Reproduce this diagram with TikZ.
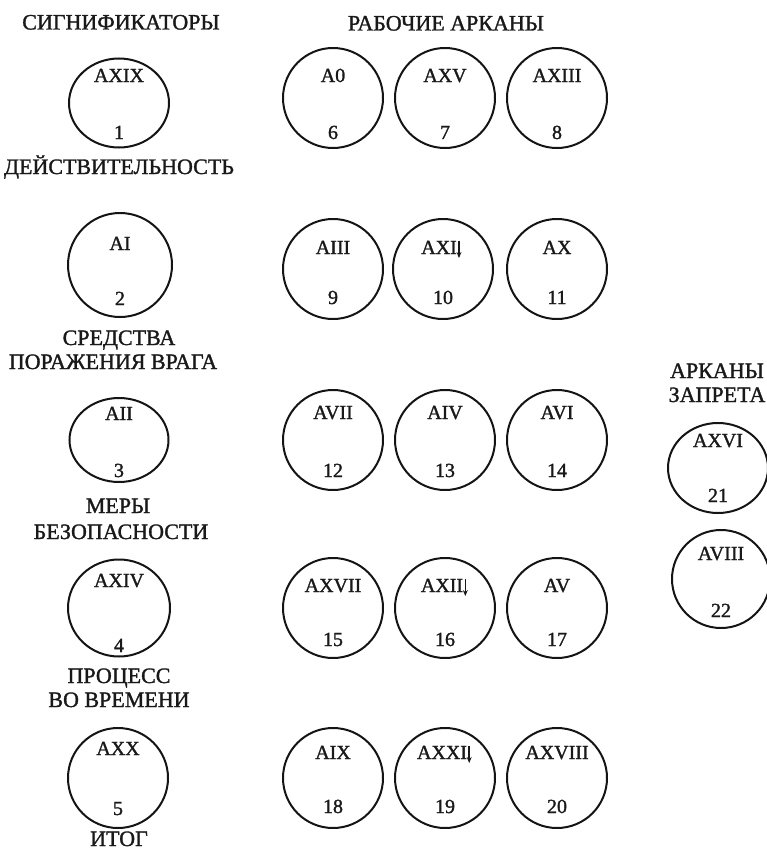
\documentclass[tikz,border=0pt]{standalone}
\usepackage{fontspec}
\setmainfont{Liberation Serif}[FakeBold=1.4]
\newfontfamily\cyrfont{Liberation Serif}[FakeBold=1.4]
\usetikzlibrary{shapes.geometric,arrows.meta}
\tikzset{
  ring/.style={draw=black!92, ellipse, line width=2pt, inner sep=0pt, minimum width=100pt, minimum height=100pt},
  lbl/.style={anchor=base, inner sep=0pt, text=black!90, font=\fontsize{20}{22}\selectfont},
  cyrtxt/.style={anchor=base, inner sep=0pt, text=black!90, font=\cyrfont\fontsize{22}{24}\selectfont},
  darr/.style={draw=black!90, line width=1.5pt, -{Stealth[length=6pt,width=5pt]}}
}
\begin{document}
\begin{tikzpicture}[x=1pt,y=-1pt]
\useasboundingbox (0,0) rectangle (767,851);
% headers
\node[cyrtxt] (h1) at (121,29.5) {СИГНИФИКАТОРЫ};
\node[cyrtxt] (h2) at (446,30.5) {РАБОЧИЕ АРКАНЫ};
\node[cyrtxt] (h3a) at (717,378) {АРКАНЫ};
\node[cyrtxt] (h3b) at (717,402) {ЗАПРЕТА};
% significators
\node[ring, minimum width=100pt, minimum height=89pt] (c1) at (119,103) {};
\node[lbl] (a1) at (119,82) {AXIX};
\node[lbl] (n1) at (119,139) {1};
\node[cyrtxt] (s1) at (119,174) {ДЕЙСТВИТЕЛЬНОСТЬ};
\node[ring, minimum width=104pt, minimum height=104pt] (c2) at (120,265) {};
\node[lbl] (a2) at (120,250) {AI};
\node[lbl] (n2) at (120,305) {2};
\node[cyrtxt] (s2a) at (119,345) {СРЕДСТВА};
\node[cyrtxt] (s2b) at (113,369) {ПОРАЖЕНИЯ ВРАГА};
\node[ring, minimum width=99pt, minimum height=84pt] (c3) at (119,440) {};
\node[lbl] (a3) at (119,420) {AII};
\node[lbl] (n3) at (119,477) {3};
\node[cyrtxt] (s3a) at (118,513) {МЕРЫ};
\node[cyrtxt] (s3b) at (121,539) {БЕЗОПАСНОСТИ};
\node[ring, minimum width=102pt, minimum height=97pt] (c4) at (119,608) {};
\node[lbl] (a4) at (119,587) {AXIV};
\node[lbl] (n4) at (119,652) {4};
\node[cyrtxt] (s4a) at (119,683) {ПРОЦЕСС};
\node[cyrtxt] (s4b) at (119,707) {ВО ВРЕМЕНИ};
\node[ring, minimum width=100pt, minimum height=100pt] (c5) at (118,778) {};
\node[lbl] (a5) at (118,755) {AXX};
\node[lbl] (n5) at (118,815) {5};
\node[cyrtxt] (s5) at (119,846) {ИТОГ};
% working arcana row 1
\node[ring] (c6) at (333,98) {};
\node[lbl] (a6) at (333,82) {A0};
\node[lbl] (n6) at (333,139) {6};
\node[ring] (c7) at (445,98) {};
\node[lbl] (a7) at (445,82) {AXV};
\node[lbl] (n7) at (445,139) {7};
\node[ring] (c8) at (557,98) {};
\node[lbl] (a8) at (557,82) {AXIII};
\node[lbl] (n8) at (557,139) {8};
% row 2
\node[ring] (c9) at (333,269) {};
\node[lbl] (a9) at (333,254) {AIII};
\node[lbl] (n9) at (333,304) {9};
\node[ring] (c10) at (443,269) {};
\node[lbl] (a10) at (439,254) {AXI};
\node[lbl] (n10) at (443,304) {10};
\node[ring] (c11) at (557,269) {};
\node[lbl] (a11) at (557,254) {AX};
\node[lbl] (n11) at (557,304) {11};
% row 3
\node[ring] (c12) at (333,440) {};
\node[lbl] (a12) at (333,419) {AVII};
\node[lbl] (n12) at (333,477) {12};
\node[ring] (c13) at (445,440) {};
\node[lbl] (a13) at (445,419) {AIV};
\node[lbl] (n13) at (445,477) {13};
\node[ring] (c14) at (557,440) {};
\node[lbl] (a14) at (557,419) {AVI};
\node[lbl] (n14) at (557,477) {14};
% row 4
\node[ring] (c15) at (333,608) {};
\node[lbl] (a15) at (333,592) {AXVII};
\node[lbl] (n15) at (333,646) {15};
\node[ring] (c16) at (445,608) {};
\node[lbl] (a16) at (442,592) {AXII};
\node[lbl] (n16) at (445,646) {16};
\node[ring] (c17) at (557,608) {};
\node[lbl] (a17) at (557,592) {AV};
\node[lbl] (n17) at (557,646) {17};
% row 5
\node[ring] (c18) at (333,778) {};
\node[lbl] (a18) at (333,759) {AIX};
\node[lbl] (n18) at (333,813) {18};
\node[ring] (c19) at (445,778) {};
\node[lbl] (a19) at (442,759) {AXXI};
\node[lbl] (n19) at (445,813) {19};
\node[ring] (c20) at (557,778) {};
\node[lbl] (a20) at (557,759) {AXVIII};
\node[lbl] (n20) at (557,813) {20};
% forbidden arcana
\node[ring, minimum width=100pt, minimum height=90pt] (c21) at (718,468) {};
\node[lbl] (a21) at (718,447) {AXVI};
\node[lbl] (n21) at (718,502) {21};
\node[ring, minimum width=98pt, minimum height=98pt] (c22) at (721,579) {};
\node[lbl] (a22) at (721,560) {AVIII};
\node[lbl] (n22) at (721,617) {22};
% down arrows after labels
\draw[darr] ([xshift=2pt]a10.north east) -- ([xshift=2pt,yshift=-4pt]a10.base east);
\draw[darr] ([xshift=2pt]a16.north east) -- ([xshift=2pt,yshift=-4pt]a16.base east);
\draw[darr] ([xshift=2pt]a19.north east) -- ([xshift=2pt,yshift=-4pt]a19.base east);
\end{tikzpicture}
\end{document}
